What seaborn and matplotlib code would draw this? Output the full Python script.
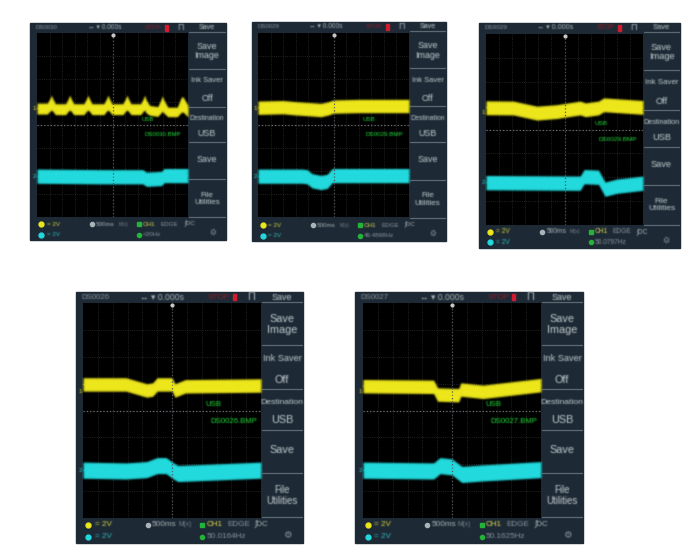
#!/usr/bin/env python3
"""Five oscilloscope save screens, laid out 3 over 2, each trace drawn as a seaborn band."""

import matplotlib
matplotlib.use("Agg")
import matplotlib.pyplot as plt
from matplotlib.patches import Rectangle
import numpy as np
import seaborn as sns

# ── Trace data: x in divisions (0-12), y in volts (2 V/div, -8..8) ───────────
s1_yellow_x = [0, 0.82, 1.03, 1.14, 1.25, 1.46, 2.28, 2.49, 2.6, 2.71, 2.92, 3.73, 3.94, 4.05, 4.16, 4.37,
               5.32, 5.53, 5.64, 5.75, 5.96, 6.83, 7.04, 7.15, 7.26, 7.47, 8.24, 8.45, 8.56, 8.67, 8.95,
               9.6, 9.85, 9.96, 10.07, 10.4, 11.15, 11.42, 11.55, 11.68, 12]
s1_yellow_top = [1.9, 1.9, 2.3, 2.6, 2.3, 1.85, 1.85, 2.3, 2.6, 2.3, 1.85, 1.85, 2.3, 2.6, 2.3, 1.85,
                 1.85, 2.3, 2.6, 2.3, 1.85, 1.85, 2.3, 2.6, 2.3, 1.85, 1.85, 2.3, 2.6, 2.2, 1.7,
                 1.6, 2.2, 2.55, 2.2, 1.55, 1.55, 2.3, 2.5, 2.3, 1.7]
s1_yellow_low = [0.95, 0.95, 1.2, 1.3, 1.2, 0.9, 0.9, 1.2, 1.3, 1.2, 0.9, 0.9, 1.2, 1.3, 1.2, 0.9,
                 0.9, 1.2, 1.3, 1.2, 0.9, 0.9, 1.2, 1.3, 1.2, 0.9, 0.9, 1.2, 1.3, 1.05, 0.85,
                 0.75, 1.05, 1.2, 1.05, 0.72, 0.72, 1.05, 1.15, 1.05, 0.7]
s1_cyan_x = [0, 5, 8.4, 8.7, 9.9, 10.1, 12]
s1_cyan_y = [-4.45, -4.5, -4.5, -4.72, -4.65, -4.4, -4.4]

s2_yellow_x = [0, 2, 3, 4.4, 5, 5.6, 6, 8, 12]
s2_yellow_y = [1.5, 1.55, 1.45, 1.35, 1.3, 1.45, 1.6, 1.65, 1.65]
s2_cyan_x = [0, 3.5, 3.9, 4.3, 5, 5.5, 5.9, 12]
s2_cyan_y = [-4.45, -4.45, -4.5, -4.85, -5.0, -4.9, -4.4, -4.4]

s3_yellow_x = [0, 2.1, 3.9, 5.4, 7.2, 7.6, 8.6, 9, 12]
s3_yellow_y = [1.82, 1.8, 1.37, 1.5, 1.8, 1.65, 1.8, 2.07, 1.85]
s3_cyan_x = [0, 7.2, 7.5, 8.6, 9.1, 10, 12]
s3_cyan_y = [-4.45, -4.5, -3.95, -4.0, -5.0, -4.75, -4.5]

s4_yellow_x = [0, 2.9, 4.3, 4.7, 5, 6, 6.2, 6.9, 12]
s4_yellow_y = [1.94, 1.94, 1.49, 1.56, 1.94, 1.94, 1.49, 1.8, 1.86]
s4_cyan_x = [0, 2.9, 4.3, 5.0, 5.6, 6.1, 6.4, 12]
s4_cyan_y = [-4.44, -4.5, -4.4, -4.1, -4.1, -4.5, -4.69, -4.44]

s5_yellow_x = [0, 4.76, 5.03, 6.45, 6.6, 8.1, 12]
s5_yellow_y = [1.81, 1.76, 1.19, 1.14, 1.56, 1.39, 1.89]
s5_cyan_x = [0, 4.76, 5.2, 6, 6.67, 8, 12]
s5_cyan_y = [-4.44, -4.5, -4.1, -4.2, -4.76, -4.65, -4.4]

# half height of the noisy trace band, volts
s1_cyan_half = 0.62
s2_half = (0.58, 0.62)
s3_half = (0.58, 0.6)
s4_half = (0.5, 0.6)
s5_half = (0.5, 0.6)

file_names = ["DS0030.BMP", "DS0029.BMP", "DS0029.BMP", "DS0026.BMP", "DS0027.BMP"]
freq_labels = ["<20Hz", "49.4868Hz", "50.0797Hz", "50.0164Hz", "50.1625Hz"]
menu_labels = ["Save\nImage", "Ink Saver", "Off", "Destination", "USB", "Save", "File\nUtilities"]
menu_y = [0.13, 0.265, 0.35, 0.44, 0.51, 0.63, 0.81]
menu_scale = [1, 0.84, 1, 0.78, 1, 1, 0.9]
menu_seps = [0.04, 0.21, 0.385, 0.55, 0.72, 0.896]

# pixel boxes (left, top, right, bottom): outer panel, then black screen
outer_boxes = [(30, 23, 226, 240), (252, 22, 446, 241), (479, 23, 680, 248),
               (76, 292, 303, 543), (355, 292, 583, 543)]
screen_boxes = [(37, 33, 188, 217), (258, 33, 409, 217), (486, 34, 643, 225),
                (83, 303, 261, 518), (363, 303, 541, 518)]
font_sizes = [6.4, 6.4, 6.7, 7.8, 7.8]
green_sizes = [4.3, 4.5, 4.6, 5.6, 5.6]

YELLOW = "#ece61c"
CYAN = "#22dadd"
PANEL = "#1d2a35"
MENU = "#c3cbcf"
GREEN = "#22e03a"
FIG_W, FIG_H = 688, 548

sns.set_theme(style="dark")
plt.rcParams["font.family"] = ["Liberation Sans", "DejaVu Sans"]


def soften(image, dpi):
    """agg_filter: small blur so marks and text have the reference's soft scan look."""
    pad = 3
    img = np.pad(image, ((pad, pad), (pad, pad), (0, 0)))
    alpha = img[..., 3:4]
    img = np.concatenate([img[..., :3] * alpha, alpha], axis=2)
    for axis in (0, 1):
        img = 0.2 * np.roll(img, 1, axis) + 0.6 * img + 0.2 * np.roll(img, -1, axis)
    a = np.clip(img[..., 3:4], 1e-4, 1)
    out = np.concatenate([np.clip(img[..., :3] / a, 0, 1), img[..., 3:4]], axis=2)
    return out, -pad, -pad


def band(ax, x, top, low, color):
    """Draw one noisy trace as a min-max band through seaborn."""
    xs = np.concatenate([x, x])
    ys = np.concatenate([top, low])
    sns.lineplot(x=xs, y=ys, errorbar=("pi", 100), color=color, linewidth=0.5,
                 err_kws={"alpha": 1, "linewidth": 0}, ax=ax)


def screen(fig, box, traces):
    l, t, r, b = box
    ax = fig.add_axes([l / FIG_W, 1 - b / FIG_H, (r - l) / FIG_W, (b - t) / FIG_H])
    ax.set_facecolor("black")
    for x, top, low, color in traces:
        band(ax, x, top, low, color)
    for art in list(ax.collections) + list(ax.lines):
        art.set_agg_filter(soften)
    ax.set_xlim(0, 12)
    ax.set_ylim(-8, 8)
    ax.set_xticks(np.arange(1, 12))
    ax.set_yticks(np.arange(-6, 7, 2))
    ax.grid(True, color="#2e2e2e", linestyle=":", linewidth=0.6)
    ax.set_axisbelow(True)
    ax.axhline(0, color="#6c6c76", linestyle=":", linewidth=0.9, zorder=1)
    ax.axvline(6, color="#50505a", linestyle=":", linewidth=0.9, zorder=1)
    ax.tick_params(length=0, labelbottom=False, labelleft=False)
    ax.set(xlabel="", ylabel="")
    for spine in ax.spines.values():
        spine.set_visible(False)
    return ax


def frame(ov, ontop, idx):
    """Panel goes under the screen; menu column and status text go over it."""
    ol, ot, or_, ob = outer_boxes[idx]
    sl, st, sr, sb = screen_boxes[idx]
    w, h = or_ - ol, ob - ot
    fs = font_sizes[idx]
    gs = green_sizes[idx]
    ov.add_patch(Rectangle((ol, ot), w, h, color=PANEL, zorder=0))

    def fx(f):
        return ol + f * w

    def fy(f):
        return ot + f * h

    menu_x = (sr + or_) / 2
    for lab, y, sc in zip(menu_labels, menu_y, menu_scale):
        ontop.text(menu_x, fy(y), lab, color=MENU, fontsize=fs * sc, ha="center", va="center",
                   linespacing=1.05)
    for y in menu_seps:
        ov.plot([sr + 1, or_ - 1], [fy(y), fy(y)], color="#5d6972", linewidth=0.9)

    small = fs - 1.9
    ontop.text(fx(0.085), fy(0.02), file_names[idx][:6], color="#8a949c", fontsize=small - 0.2,
               ha="center", va="center")
    ontop.text(fx(0.38), fy(0.02), "↔ ▾ 0.000s", color="#aab3b8", fontsize=small + 0.3,
               ha="center", va="center")
    ontop.text(fx(0.63), fy(0.02), "STOP", color="#8d1f2a", fontsize=small, ha="center", va="center")
    ov.add_patch(Rectangle((fx(0.69), fy(0.008)), 3, 6, color="#d01c2c", zorder=3))
    ontop.text(fx(0.77), fy(0.02), "Π", color="#aab3b8", fontsize=fs, ha="center", va="center")
    ontop.text(menu_x, fy(0.02), "Save", color=MENU, fontsize=small + 0.6, ha="center", va="center")

    ov.plot([fx(0.055)], [fy(0.927)], "o", color=YELLOW, markersize=3.5)
    ov.plot([fx(0.055)], [fy(0.975)], "o", color=CYAN, markersize=3.5)
    ontop.text(fx(0.085), fy(0.927), "= 2V", color="#d6d13c", fontsize=small, va="center")
    ontop.text(fx(0.085), fy(0.975), "= 2V", color="#2fb9bc", fontsize=small, va="center")
    ov.plot([fx(0.315)], [fy(0.927)], "o", color="#aab3b8", markersize=3)
    ontop.text(fx(0.335), fy(0.927), "500ms", color="#aab3b8", fontsize=small, va="center")
    ontop.text(fx(0.45), fy(0.927), "M(x)", color="#77818a", fontsize=small - 1, va="center")
    ov.plot([fx(0.555)], [fy(0.927)], "s", color="#25b23a", markersize=3)
    ov.plot([fx(0.555)], [fy(0.975)], "o", color="#25b23a", markersize=3)
    ontop.text(fx(0.575), fy(0.927), "CH1", color="#e4db4f", fontsize=small, va="center")
    ontop.text(fx(0.665), fy(0.927), "EDGE", color="#8a949c", fontsize=small, va="center")
    ontop.text(fx(0.785), fy(0.927), "∫DC", color="#aab3b8", fontsize=small, va="center")
    ontop.text(fx(0.575), fy(0.975), freq_labels[idx], color="#8a949c", fontsize=small, va="center")
    ontop.text(fx(0.93), fy(0.97), "⚙", color="#8a949c", fontsize=small + 1, ha="center", va="center")

    ontop.text(sl - 3, st + 0.41 * (sb - st), "1", color=YELLOW, fontsize=4.5, ha="center", va="center")
    ontop.text(sl - 3, st + 0.78 * (sb - st), "2", color=CYAN, fontsize=4.5, ha="center", va="center")
    ontop.plot([(sl + sr) / 2], [st + 2], "o", color="#c8c8c8", markersize=2)

    ontop.text(sl + 0.69 * (sr - sl), st + 0.47 * (sb - st), "USB", color=GREEN, fontsize=gs, va="center")
    ontop.text(sl + 0.715 * (sr - sl), st + 0.55 * (sb - st), file_names[idx], color=GREEN,
               fontsize=gs, va="center")


def main():
    fig = plt.figure(figsize=(FIG_W / 100, FIG_H / 100), dpi=100, facecolor="white")

    ov = fig.add_axes([0, 0, 1, 1], zorder=0)
    ontop = fig.add_axes([0, 0, 1, 1], zorder=5)
    for a in (ov, ontop):
        a.set_xlim(0, FIG_W)
        a.set_ylim(FIG_H, 0)
        a.axis("off")
    for i in range(5):
        frame(ov, ontop, i)
    for txt in ontop.texts:
        txt.set_agg_filter(soften)

    def plain(x, y, half, color):
        y = np.array(y)
        return np.array(x), y + half, y - half, color

    scopes = [
        [(np.array(s1_yellow_x), np.array(s1_yellow_top), np.array(s1_yellow_low), YELLOW),
         plain(s1_cyan_x, s1_cyan_y, s1_cyan_half, CYAN)],
        [plain(s2_yellow_x, s2_yellow_y, s2_half[0], YELLOW),
         plain(s2_cyan_x, s2_cyan_y, s2_half[1], CYAN)],
        [plain(s3_yellow_x, s3_yellow_y, s3_half[0], YELLOW),
         plain(s3_cyan_x, s3_cyan_y, s3_half[1], CYAN)],
        [plain(s4_yellow_x, s4_yellow_y, s4_half[0], YELLOW),
         plain(s4_cyan_x, s4_cyan_y, s4_half[1], CYAN)],
        [plain(s5_yellow_x, s5_yellow_y, s5_half[0], YELLOW),
         plain(s5_cyan_x, s5_cyan_y, s5_half[1], CYAN)],
    ]
    for box, traces in zip(screen_boxes, scopes):
        screen(fig, box, traces)

    fig.savefig("out.png", dpi=100)


if __name__ == "__main__":
    main()
